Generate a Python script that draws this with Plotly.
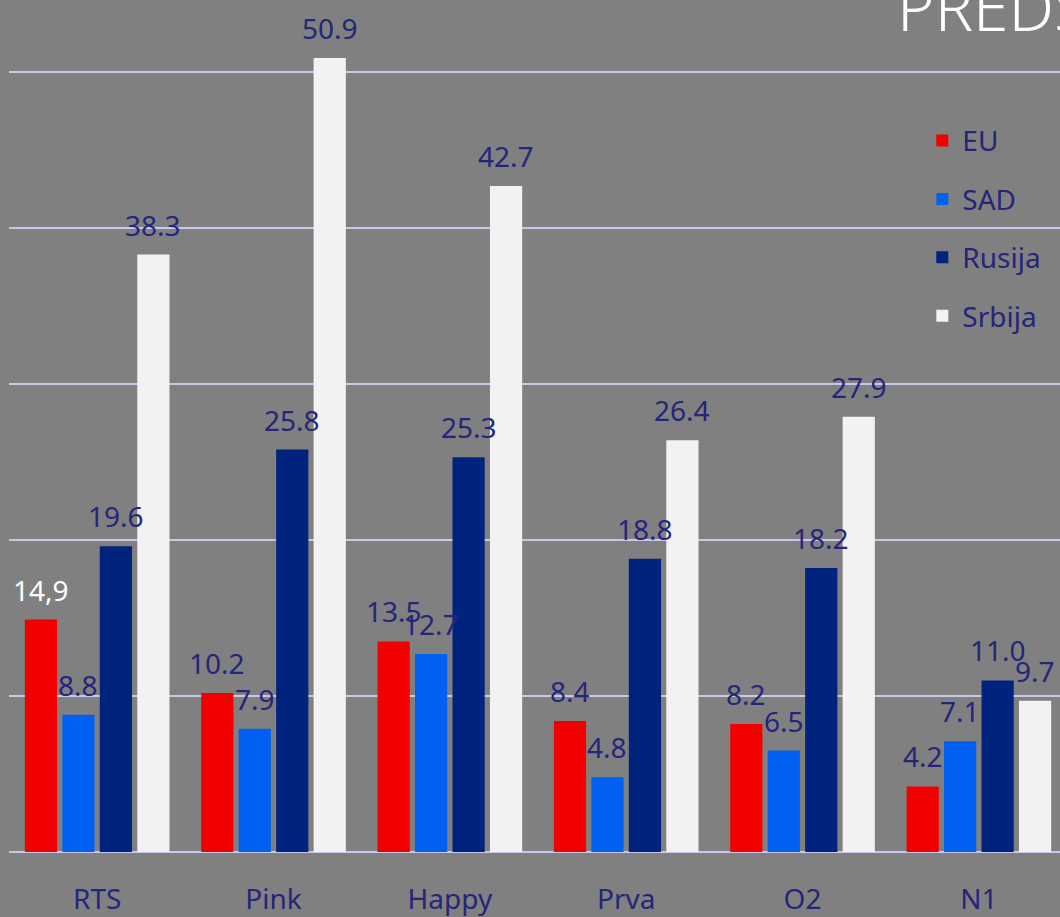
import plotly.graph_objects as go

categories = ["RTS", "Pink", "Happy", "Prva", "O2", "N1"]
series_names = ["EU", "SAD", "Rusija", "Srbija"]
eu = [14.9, 10.2, 13.5, 8.4, 8.2, 4.2]
sad = [8.8, 7.9, 12.7, 4.8, 6.5, 7.1]
rusija = [19.6, 25.8, 25.3, 18.8, 18.2, 11.0]
srbija = [38.3, 50.9, 42.7, 26.4, 27.9, 9.7]
eu_labels = ["14,9", "10.2", "13.5", "8.4", "8.2", "4.2"]
title_text = "PREDSTAVLJANJE"

colors = ["#f20000", "#0060f2", "#00237e", "#f2f2f2"]
label_color = "#25257a"
font_family = "Noto Sans, Open Sans, sans-serif"

series = [eu, sad, rusija, srbija]
labels = [eu_labels,
          [f"{v:.1f}" for v in sad],
          [f"{v:.1f}" for v in rusija],
          [f"{v:.1f}" for v in srbija]]

bargap = 0.15
bargroupgap = 0.14

fig = go.Figure()
for k, (name, vals, col) in enumerate(zip(series_names, series, colors)):
    fig.add_trace(go.Bar(name=name, x=categories, y=vals, legendgroup=f"g{k}",
                         marker=dict(color=col, line=dict(width=0))))

slot = (1 - bargap) / len(series)
annotations = []
for i, (vals, labs) in enumerate(zip(series, labels)):
    for j, (v, lab) in enumerate(zip(vals, labs)):
        annotations.append(dict(
            x=j + (i - (len(series) - 1) / 2) * slot, y=v, xref="x", yref="y",
            text=lab, showarrow=False, yanchor="bottom", xanchor="center", yshift=9,
            font=dict(size=28, color="#ffffff" if lab == "14,9" else label_color, family=font_family)))

annotations.append(dict(
    x=0.843, y=0.992, xref="paper", yref="paper", text=title_text, showarrow=False,
    xanchor="left", yanchor="middle",
    font=dict(size=64, color="#ffffff", family=font_family, weight=300)))

fig.update_layout(
    width=1060, height=917,
    margin=dict(l=9, r=0, t=0, b=65),
    paper_bgcolor="#808080", plot_bgcolor="#808080",
    barmode="group", bargap=bargap, bargroupgap=bargroupgap,
    showlegend=True,
    legend=dict(x=0.869, y=0.864, xanchor="left", yanchor="top",
                font=dict(size=28, color=label_color, family=font_family),
                bgcolor="rgba(0,0,0,0)", tracegroupgap=19, traceorder="grouped"),
    annotations=annotations,
    xaxis=dict(range=[-0.5, 5.46], showgrid=False, showline=False, ticks="",
               tickfont=dict(size=28, color=label_color, family=font_family),
               ticklabelstandoff=28),
    yaxis=dict(range=[0, 54.62], dtick=10, showgrid=True, gridcolor="#c8c8ea", gridwidth=2,
               zeroline=True, zerolinecolor="#c8c8ea", zerolinewidth=2,
               showticklabels=False, ticks=""),
)

fig.write_html("out.html", config={"displayModeBar": False},
               post_script="document.body.style.margin='0';document.body.style.overflow='hidden';")
